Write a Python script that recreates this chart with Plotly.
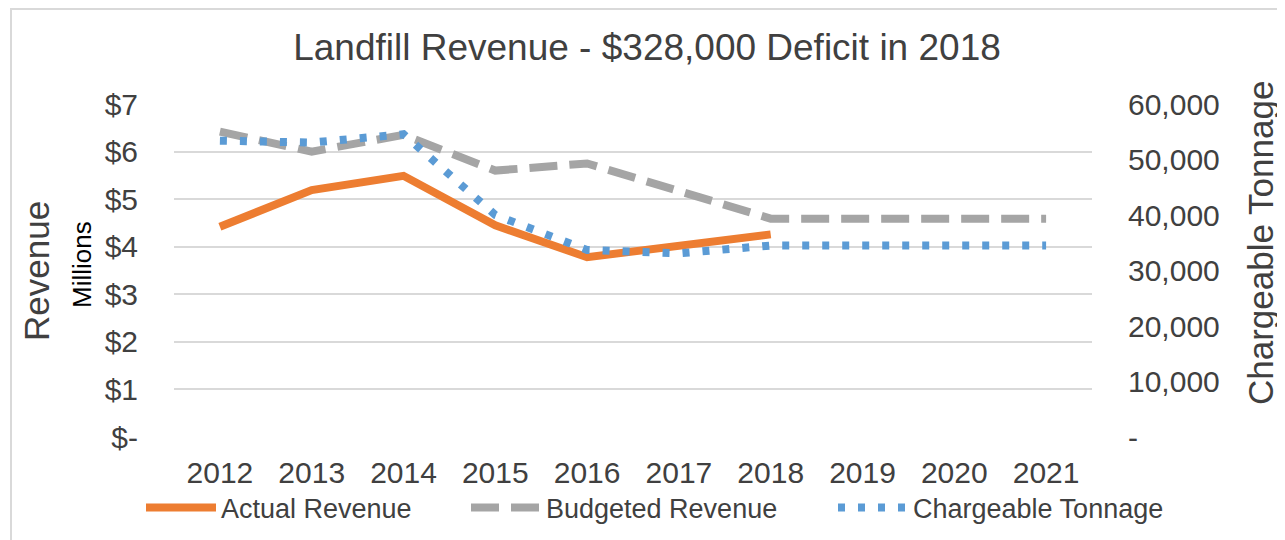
import plotly.graph_objects as go

years = ["2012", "2013", "2014", "2015", "2016", "2017", "2018", "2019", "2020", "2021"]
actual_revenue = [4.42, 5.19, 5.49, 4.45, 3.78, 4.0, 4.26, None, None, None]
budgeted_revenue = [6.42, 6.0, 6.35, 5.6, 5.75, 5.19, 4.59, 4.59, 4.59, 4.59]
tonnage = [53400, 53050, 54550, 40000, 33700, 33100, 34500, 34500, 34500, 34500]

rev_ticks = [0, 1, 2, 3, 4, 5, 6, 7]
rev_labels = ["$-", "$1", "$2", "$3", "$4", "$5", "$6", "$7"]
ton_ticks = [0, 10000, 20000, 30000, 40000, 50000, 60000]
ton_labels = ["-", "10,000", "20,000", "30,000", "40,000", "50,000", "60,000"]

FONT = "Liberation Sans, Arial, sans-serif"
TXT = "#404040"

fig = go.Figure()
fig.add_trace(go.Scatter(
    x=years, y=actual_revenue, name="Actual Revenue", mode="lines",
    line=dict(color="#ED7D31", width=8), legend="legend"))
fig.add_trace(go.Scatter(
    x=years, y=budgeted_revenue, name="Budgeted Revenue", mode="lines",
    line=dict(color="#A5A5A5", width=8, dash="28px,12px"), legend="legend2"))
fig.add_trace(go.Scatter(
    x=years, y=tonnage, name="Chargeable Tonnage", mode="lines", yaxis="y2",
    line=dict(color="#5B9BD5", width=8, dash="7px,13px"), legend="legend3"))

# page body adds an 8px offset; work in screen pixels and shift
OFF = 8
W, H = 1285 - OFF, 540 - OFF
L, R, T, B = 174 - OFF, 1092 - OFF, 104 - OFF, 437 - OFF
pw, ph = R - L, B - T
def px(x):
    return (x - OFF - L) / pw
def py(y):
    return (B - (y - OFF)) / ph

legend_common = dict(orientation="h", yanchor="middle", xanchor="left",
                     font=dict(family=FONT, size=27, color=TXT),
                     bgcolor="rgba(0,0,0,0)", itemwidth=70)

fig.update_layout(
    width=W, height=H,
    margin=dict(l=L, r=W - R, t=T, b=H - B, autoexpand=False),
    paper_bgcolor="white", plot_bgcolor="white",
    font=dict(family=FONT, color=TXT),
    title=dict(text="Landfill Revenue - $328,000 Deficit in 2018",
               x=px(647), xref="paper", xanchor="center",
               y=1 - (47 - OFF) / H, yanchor="middle",
               font=dict(family=FONT, size=37, color=TXT)),
    xaxis=dict(type="category", range=[-0.5, 9.5], showgrid=False,
               showline=False, zeroline=False,
               ticks="outside", ticklen=9, tickcolor="rgba(0,0,0,0)",
               tickfont=dict(family=FONT, size=30, color=TXT)),
    yaxis=dict(range=[0, 7], tickvals=rev_ticks, ticktext=rev_labels,
               showgrid=True, gridcolor="#D9D9D9", gridwidth=2,
               zeroline=False, showline=False,
               ticks="outside", ticklen=29, tickcolor="rgba(0,0,0,0)",
               tickfont=dict(family=FONT, size=30, color=TXT)),
    yaxis2=dict(range=[0, 60000], tickvals=ton_ticks, ticktext=ton_labels,
                overlaying="y", side="right", showgrid=False,
                zeroline=False, showline=False,
                ticks="outside", ticklen=29, tickcolor="rgba(0,0,0,0)",
                tickfont=dict(family=FONT, size=30, color=TXT)),
    legend=dict(legend_common, x=px(141), y=py(508)),
    legend2=dict(legend_common, x=px(466), y=py(508)),
    legend3=dict(legend_common, x=px(833), y=py(508)),
    showlegend=True,
    annotations=[
        dict(text="Revenue", textangle=-90, xref="paper", yref="paper",
             x=px(36), y=py(271), xanchor="center", yanchor="middle",
             showarrow=False, font=dict(family=FONT, size=35, color=TXT)),
        dict(text="Millions", textangle=-90, xref="paper", yref="paper",
             x=px(82), y=py(265), xanchor="center", yanchor="middle",
             showarrow=False, font=dict(family=FONT, size=26, color="#000000")),
        dict(text="Chargeable Tonnage", textangle=-90, xref="paper", yref="paper",
             x=px(1260), y=py(243), xanchor="center", yanchor="middle",
             showarrow=False, font=dict(family=FONT, size=35, color=TXT)),
    ],
    shapes=[dict(type="rect", xref="paper", yref="paper",
                 x0=px(11), x1=px(1279), y0=py(560), y1=py(OFF + 1),
                 line=dict(color="#D9D9D9", width=2), fillcolor="rgba(0,0,0,0)",
                 layer="below")],
)

fig.write_html("out.html")
